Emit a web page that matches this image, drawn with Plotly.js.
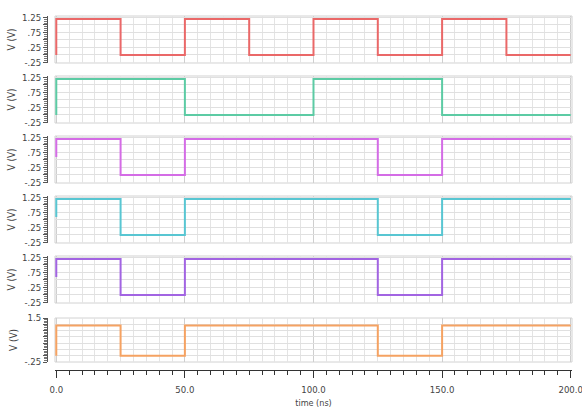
<!DOCTYPE html>
<html>
<head>
<meta charset="utf-8">
<script src="https://cdn.plot.ly/plotly-3.0.1.min.js"></script>
<style>html,body{margin:0;padding:0;background:#fff;}#chart{width:582px;height:409px;}</style>
</head>
<body>
<div id="chart"></div>
<script>
// ---- data ----
const tClk   = [0, 0, 25, 50, 75, 100, 125, 150, 175, 200];
const vClk   = [0, 1.2, 0, 1.2, 0, 1.2, 0, 1.2, 0, 0];
const tDiv   = [0, 0, 50, 100, 150, 200];
const vDiv   = [0, 1.2, 0, 1.2, 0, 0];
const tOut3  = [0, 0, 25, 50, 125, 150, 200];
const vOut3  = [0.6, 1.2, 0, 1.2, 0, 1.2, 1.2];
const tOut4  = [0, 0, 25, 50, 125, 150, 200];
const vOut4  = [0.6, 1.2, 0, 1.2, 0, 1.2, 1.2];
const tOut5  = [0, 0, 25, 50, 125, 150, 200];
const vOut5  = [0.6, 1.2, 0, 1.2, 0, 1.2, 1.2];
const tOut6  = [0, 0, 25, 50, 125, 150, 200];
const vOut6  = [0, 1.2, 0, 1.2, 0, 1.2, 1.2];
const xTickVals = [0, 50, 100, 150, 200];
const xTickText = ["0.0", "50.0", "100.0", "150.0", "200.0"];
const yTickVals = [1.25, 1.0, 0.75, 0.5, 0.25, 0, -0.25];
const yTickText = ["1.25", "", ".75", "", ".25", "", "-.25"];
const yTickVals6 = [1.5, 1.25, 1.0, 0.75, 0.5, 0.25, 0, -0.25];
const yTickText6 = ["1.5", "", "", "", "", "", "", "-.25"];

const series = [
  {t: tClk,  v: vClk,  color: "#ea6868"},
  {t: tDiv,  v: vDiv,  color: "#5ccba4"},
  {t: tOut3, v: vOut3, color: "#d46ce6"},
  {t: tOut4, v: vOut4, color: "#58c6d2"},
  {t: tOut5, v: vOut5, color: "#a264e2"},
  {t: tOut6, v: vOut6, color: "#f5a262"}
];

// ---- layout geometry ----
const domains = [
  [0.8528, 0.9833],
  [0.6861, 0.8167],
  [0.5194, 0.6500],
  [0.3528, 0.4833],
  [0.1861, 0.3167],
  [0.0222, 0.1444]
];
const yRanges = [[-0.27,1.3],[-0.27,1.3],[-0.27,1.3],[-0.27,1.3],[-0.27,1.3],[-0.25,1.5]];
const fam = "DejaVu Sans Condensed, DejaVu Sans, sans-serif";

const traces = series.map((s, i) => ({
  x: s.t, y: s.v, type: "scatter", mode: "lines",
  line: {shape: "hv", color: s.color, width: 2},
  xaxis: "x" + (i + 1), yaxis: "y" + (i + 1),
  showlegend: false, hoverinfo: "skip"
}));

const layout = {
  width: 582, height: 409,
  margin: {l: 46, r: 10, t: 10, b: 39},
  paper_bgcolor: "#fff", plot_bgcolor: "#fff",
  font: {family: fam, size: 9, color: "#444"},
  shapes: []
};

for (let i = 0; i < 6; i++) {
  const n = i + 1;
  const last = (i === 5);
  const xa = {
    domain: [0.0171, 1], range: [-0.5, 200.5],
    showgrid: true, gridcolor: "#cfcfcf", gridwidth: 1,
    tickmode: "array", tickvals: xTickVals,
    minor: {dtick: 5, tick0: 0, showgrid: true, gridcolor: "#e4e4e4", gridwidth: 1},
    zeroline: false, fixedrange: true
  };
  if (last) {
    Object.assign(xa, {
      anchor: "free", position: 0,
      ticktext: xTickText, showticklabels: true,
      ticks: "outside", ticklen: 7, tickcolor: "#333", tickwidth: 1,
      ticklabelstandoff: 4, ticklabeloverflow: "allow",
      showline: true, linecolor: "#333", linewidth: 1,
      tickfont: {family: fam, size: 9.5, color: "#444"},
      title: {text: "time (ns)", font: {family: fam, size: 9, color: "#444"}, standoff: 5}
    });
    xa.minor = {dtick: 5, tick0: 0, showgrid: true, gridcolor: "#e4e4e4", gridwidth: 1,
                ticks: "outside", ticklen: 4, tickcolor: "#333"};
  } else {
    Object.assign(xa, {anchor: "y" + n, showticklabels: false, ticks: "", matches: "x6"});
  }
  layout["xaxis" + n] = xa;

  layout["yaxis" + n] = {
    domain: domains[i], range: yRanges[i],
    anchor: "free", position: 0.0019,
    tickmode: "array",
    tickvals: last ? yTickVals6 : yTickVals,
    ticktext: last ? yTickText6 : yTickText,
    ticks: "outside", ticklen: 4, tickcolor: "#555",
    showline: true, linecolor: "#555", linewidth: 1,
    showgrid: true, gridcolor: "#e0e0e0", gridwidth: 1,
    minor: {dtick: 0.0625, tick0: -0.25, ticks: "outside", ticklen: 3, tickcolor: "#777", showgrid: false},
    zeroline: false, fixedrange: true,
    tickfont: {family: fam, size: 9.5, color: "#444"},
    title: {text: "V (V)", font: {family: fam, size: 10, color: "#444"}, standoff: 3}
  };

  layout.shapes.push({
    type: "rect", xref: "x" + n + " domain", yref: "y" + n + " domain",
    x0: 0, x1: 1, y0: 0, y1: 1,
    line: {color: "#d2d2d2", width: 1}, layer: "below"
  });
}

Plotly.newPlot("chart", traces, layout, {staticPlot: true, displayModeBar: false});
</script>
</body>
</html>
